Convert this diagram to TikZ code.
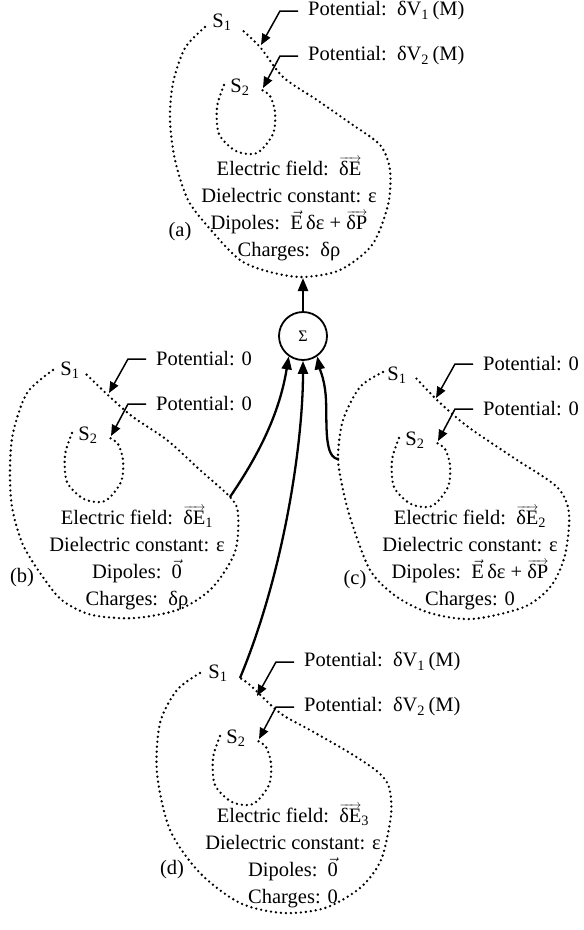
\documentclass[tikz,border=0pt]{standalone}
\usepackage{amsmath}
\usepackage{fontspec}
\setmainfont{Liberation Serif}
\usetikzlibrary{arrows.meta}

% vector arrow drawn close over a text
\newcommand\fvec[1]{\vbox{\offinterlineskip\halign{##\cr{\fontsize{12}{12}\selectfont\rightarrowfill}\cr\noalign{\kern0.3pt}#1\cr}}}

\tikzset{
  surface/.style={line width=2.6pt, line cap=round, dash pattern=on 0pt off 5pt},
  lead/.style={line width=1.5pt, -{Triangle[length=11pt,width=9pt]}},
  conn/.style={line width=2.3pt, -{Triangle[length=13pt,width=10pt]}},
  lbl/.style={inner sep=0pt, font=\fontsize{20.5}{27}\selectfont},
  info/.style={lbl, align=center},
}

\begin{document}
\begin{tikzpicture}[x=1pt,y=-1pt]
\useasboundingbox (0,0) rectangle (584,930);
% S1, S2 and the potential leaders of each case
\foreach \lab/\sx/\sy/\pa/\pb in {a/222/22/{\,δV\textsubscript{1}\,(M)}/{\,δV\textsubscript{2}\,(M)}, b/70/370/0/0, c/397/375/0/0, d/218/673/{\,δV\textsubscript{1}\,(M)}/{\,δV\textsubscript{2}\,(M)}} {
  \begin{scope}[shift={(\sx,\sy)}]
    \node[lbl] (s1\lab) at (0,0) {S\textsubscript{1}};
    \node[lbl] (s2\lab) at (18,65) {S\textsubscript{2}};
    \draw[surface] plot[smooth] coordinates {(2,63) (-5,85) (-3,112) (14,129) (35,131) (51,112) (53,90) (48,74) (40,68)};
    \node[lbl, anchor=west] (p1\lab) at (86,-11) {Potential: \pa};
    \node[lbl, anchor=west] (p2\lab) at (86,34) {Potential: \pb};
    \coordinate (t1\lab) at (39,23);
    \coordinate (t2\lab) at (41,66);
    \draw[lead] ([xshift=-10pt]p1\lab.west) -- ++(-18,0) -- (t1\lab);
    \draw[lead] ([xshift=-10pt]p2\lab.west) -- ++(-18,0) -- (t2\lab);
  \end{scope}
}
% outer surfaces S1
\draw[surface] plot[smooth] coordinates {(205,27) (185,48) (173,83) (170,120) (175,160) (188,200) (210,229) (240,260) (270,272) (303,277) (340,270) (372,245) (388,205) (390,170) (380,145) (350,123) (317,100) (283,77) (260,47) (240,28)};
\draw[surface] plot[smooth] coordinates {(53,370) (27,393) (13,433) (10,470) (12,507) (23,545) (45,580) (63,601) (92,615) (135,618) (180,609) (212,588) (235,552) (238,513) (230,497) (200,470) (167,440) (133,417) (110,397) (85,373)};
\draw[surface] plot[smooth] coordinates {(383,372) (360,387) (343,420) (338,455) (341,480) (350,517) (370,570) (397,597) (430,613) (472,619) (524,607) (551,586) (565,555) (569,513) (557,487) (517,460) (487,440) (463,423) (437,400) (415,377)};
\draw[surface] plot[smooth] coordinates {(200,673) (177,690) (160,723) (157,773) (170,830) (200,873) (240,903) (283,913) (325,908) (360,888) (381,860) (391,815) (389,787) (378,772) (350,753) (310,730) (280,713) (250,685) (240,678)};

% field, medium and sources
\node[info] (txa) at (289,209) {Electric field: \,\fvec{δE}\\ Dielectric constant: ε\\ Dipoles: \,$\vec{\text{E}}$\,δε + \fvec{δP}\\ Charges: \,δρ};
\node[info] (txb) at (137,558) {Electric field: \,\fvec{δE}\textsubscript{1}\\ Dielectric constant: ε\\ Dipoles: \,$\vec{\text{0}}$\\ Charges: \,δρ};
\node[info] (txc) at (470,558) {Electric field: \,\fvec{δE}\textsubscript{2}\\ Dielectric constant: ε\\ Dipoles: \,$\vec{\text{E}}$\,δε + \fvec{δP}\\ Charges: 0};
\node[info] (txd) at (293,856) {Electric field: \,\fvec{δE}\textsubscript{3}\\ Dielectric constant: ε\\ Dipoles: \,$\vec{\text{0}}$\\ Charges: 0};
\node[lbl] (la) at (180,232) {(a)};
\node[lbl] (lb) at (22,578) {(b)};
\node[lbl] (lc) at (355,580) {(c)};
\node[lbl] (ld) at (172,870) {(d)};

% superposition
\node[circle, draw, line width=1.8pt, minimum size=48pt, inner sep=0pt, font=\fontsize{16}{16}\selectfont] (sum) at (303,336) {Σ};
\coordinate (atop) at (303,278);
\coordinate (bout) at (230,497);
\coordinate (cout) at (339,459);
\coordinate (dout) at (240,678);
\draw[conn] (sum.north) -- (atop);
\draw[conn] (bout) .. controls (262,450) and (280,410) .. (sum.235);
\draw[conn] (dout) .. controls (285,570) and (303,440) .. (sum.south);
\draw[conn] (cout) .. controls (324,459) and (327,425) .. (326,400) .. controls (325,380) and (320,370) .. (sum.305);
\end{tikzpicture}
\end{document}
